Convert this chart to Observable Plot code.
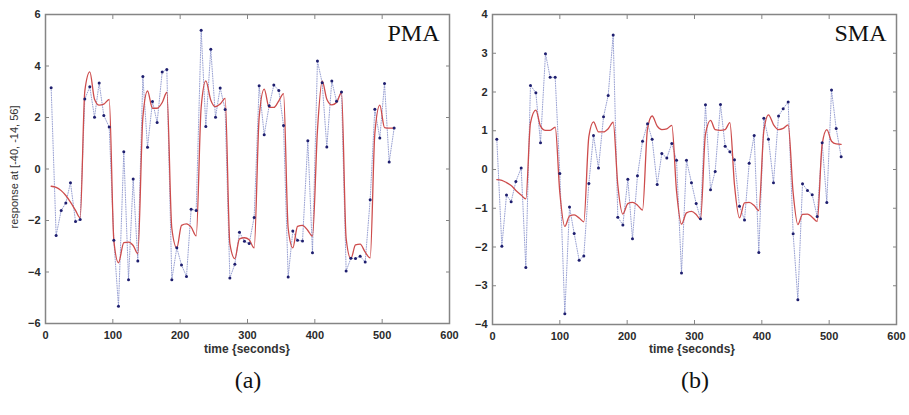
<!DOCTYPE html>
<html><head><meta charset="utf-8">
<script src="https://cdn.jsdelivr.net/npm/d3@7"></script>
<script src="https://cdn.jsdelivr.net/npm/@observablehq/plot@0.6"></script>
<style>
body{margin:0;background:#fff;}
#wrap{position:relative;width:909px;height:415px;overflow:hidden;background:#fff;}
.panel{position:absolute;top:0;}
.cap{position:absolute;font-family:"Liberation Serif","Times New Roman",serif;font-size:24px;line-height:1;color:#111;width:100px;text-align:center;white-space:nowrap;}
.xl{position:absolute;font-family:"Liberation Sans",Arial,sans-serif;font-weight:bold;font-size:12px;line-height:1;color:#333;width:140px;text-align:center;white-space:nowrap;}
.yl{position:absolute;font-family:"Liberation Sans",Arial,sans-serif;font-size:11px;line-height:1;color:#333;white-space:nowrap;transform:translate(-50%,-50%) rotate(-90deg);}
</style></head><body>
<div id="wrap">
  <div id="pb" class="panel" style="left:450px"></div>
  <div id="pa" class="panel" style="left:0px"></div>
  <div class="xl" style="left:177px;top:343px">time {seconds}</div>
  <div class="xl" style="left:622px;top:343px">time {seconds}</div>
  <div class="yl" style="left:14px;top:167px">response at [-40, -14, 56]</div>
  <div class="cap" style="left:198px;top:368px">(a)</div>
  <div class="cap" style="left:645px;top:368px">(b)</div>
</div>
<script>
// ---- data ----
const xTicks = [0, 100, 200, 300, 400, 500, 600];
const yTicksA = [-6, -4, -2, 0, 2, 4, 6];
const yTicksB = [-4, -3, -2, -1, 0, 1, 2, 3, 4];

// Panel (a) PMA
const timeA = [8.4, 15.8, 23.3, 30.2, 37.1, 44.6, 51.5, 58.4, 65.8, 72.8, 79.7, 86.6, 94.6, 101.5, 108.4, 116.3, 123.3, 130.2, 137.1, 144.6, 151.5, 158.9, 165.8, 173.3, 180.2, 187.6, 195.0, 202.0, 209.4, 216.3, 223.8, 231.2, 238.1, 245.5, 252.5, 259.4, 266.8, 273.8, 281.2, 288.1, 295.5, 302.5, 309.9, 317.3, 324.8, 332.2, 339.1, 346.5, 353.5, 360.4, 367.3, 374.3, 381.7, 389.6, 396.5, 403.9, 410.9, 417.8, 425.2, 432.2, 439.6, 446.5, 453.5, 460.4, 467.3, 474.8, 482.2, 489.1, 496.5, 503.5, 510.4, 517.8];
const respA = [3.16, -2.58, -1.61, -1.32, -0.53, -2.04, -1.96, 2.72, 3.19, 2.01, 3.34, 2.08, 1.63, -2.77, -5.33, 0.67, -4.30, -0.39, -3.57, 3.59, 0.84, 2.62, 1.81, 3.77, 3.86, -4.30, -3.06, -3.73, -4.17, -1.56, -1.61, 5.39, 1.65, 4.65, 2.01, 3.15, 2.31, -4.23, -3.70, -2.46, -2.81, -2.89, -1.88, 3.23, 1.33, 2.46, 3.26, 3.05, 1.69, -4.19, -2.41, -2.77, -2.80, 1.10, -3.25, 4.19, 3.35, 0.85, 3.42, 2.63, 2.99, -3.96, -3.47, -3.48, -3.39, -3.61, -1.19, 2.32, 1.20, 3.32, 0.27, 1.59];
const fitA = [-0.67, -0.71, -0.84, -1.03, -1.29, -1.61, -1.90, 3.03, 3.77, 2.71, 2.48, 2.52, 2.70, -2.77, -3.64, -2.86, -2.84, -2.97, -3.29, 2.00, 3.03, 2.36, 2.36, 2.58, 2.97, -2.30, -3.06, -2.19, -2.13, -2.26, -2.60, 2.40, 3.42, 2.67, 2.42, 2.52, 2.74, -2.90, -3.48, -2.71, -2.67, -2.75, -3.06, 2.00, 3.10, 2.39, 2.39, 2.65, 2.93, -2.30, -3.06, -2.23, -2.19, -2.39, -2.61, 1.50, 3.42, 2.71, 2.49, 2.58, 2.97, -2.70, -3.48, -2.95, -2.92, -3.23, -3.45, 1.37, 2.48, 1.61, 1.59, 1.59];

// Panel (b) SMA
const timeB = [6.4, 13.9, 20.8, 27.7, 34.7, 42.6, 49.5, 56.4, 64.4, 71.3, 78.7, 85.6, 93.1, 100.0, 107.4, 114.4, 121.3, 128.7, 135.6, 143.1, 150.0, 157.4, 164.9, 171.8, 179.2, 186.1, 193.6, 201.0, 207.9, 215.3, 222.8, 230.2, 237.1, 244.6, 251.5, 258.9, 266.3, 273.3, 280.7, 288.1, 295.5, 302.5, 308.9, 316.3, 323.8, 330.7, 338.6, 345.5, 352.5, 359.4, 366.8, 374.3, 381.2, 388.6, 395.5, 403.0, 409.9, 417.3, 424.8, 431.7, 439.1, 446.5, 453.5, 460.4, 467.8, 474.8, 482.2, 489.6, 496.5, 503.5, 510.4, 517.8];
const respB = [0.78, -1.98, -0.66, -0.83, -0.31, 0.04, -2.53, 2.17, 1.98, 0.69, 2.99, 2.38, 2.38, -0.10, -3.72, -0.97, -1.65, -2.34, -2.23, -0.36, 0.88, 0.04, 1.36, 1.91, 3.47, -1.23, -1.43, -0.25, -1.79, -0.16, 0.73, 1.18, 0.78, -0.39, 0.41, 0.30, 0.67, 0.24, -2.67, 0.24, -0.34, -0.88, -1.27, 1.67, -0.52, -0.05, 1.68, 0.60, 0.46, 0.25, -0.95, -1.30, 0.16, 0.88, -2.14, 1.32, 0.78, -0.34, 1.38, 1.57, 1.74, -1.66, -3.36, -0.37, -0.54, -0.65, -1.21, 0.69, -0.85, 2.05, 1.06, 0.33];
const fitB = [-0.26, -0.28, -0.34, -0.41, -0.54, -0.66, -0.76, 1.20, 1.53, 1.12, 1.01, 1.01, 1.09, -0.60, -1.47, -1.20, -1.17, -1.25, -1.35, 0.85, 1.23, 0.97, 0.97, 1.05, 1.22, -0.40, -1.15, -0.88, -0.85, -0.92, -1.05, 1.05, 1.38, 1.12, 1.03, 1.05, 1.14, -0.55, -1.41, -1.12, -1.08, -1.16, -1.29, 0.91, 1.27, 1.03, 1.01, 1.03, 1.21, -0.40, -1.25, -0.86, -0.85, -0.93, -1.06, 1.00, 1.41, 1.16, 1.03, 1.06, 1.15, -0.60, -1.42, -1.16, -1.15, -1.23, -1.34, 0.65, 1.03, 0.73, 0.66, 0.65];

function panel(t, v, fit, yDomain, yTicks, width, mL, mR, mB, name) {
  const rows = t.map((d, i) => ({t: d, v: v[i], fit: fit[i]}));
  const grey = "#858585";
  const none = () => "";
  return Plot.plot({
    width, height: 360,
    marginLeft: mL, marginRight: mR, marginTop: 14, marginBottom: mB,
    x: {domain: [0, 600]},
    y: {domain: yDomain},
    style: {fontFamily: "'Liberation Sans', Arial, sans-serif", fontSize: "11px", fontWeight: "bold", color: "#2a2a2a", background: "transparent", overflow: "visible"},
    marks: [
      Plot.line(rows, {x: "t", y: "v", stroke: "#7d88c6", strokeWidth: 0.8, strokeDasharray: "0.9,1.5"}),
      Plot.line(rows, {x: "t", y: "fit", stroke: "#cd4c4c", strokeWidth: 1.3, curve: "monotone-x"}),
      Plot.dot(rows, {x: "t", y: "v", r: 1.5, fill: "#1e1e6e", stroke: null}),
      Plot.frame({stroke: grey, strokeWidth: 1.5}),
      Plot.axisX(xTicks, {anchor: "bottom", tickSize: 0, tickPadding: 8, label: null}),
      Plot.axisX(xTicks, {anchor: "bottom", tickSize: -4, tickFormat: none, label: null, stroke: grey}),
      Plot.axisX(xTicks, {anchor: "top", tickSize: -4, tickFormat: none, label: null, stroke: grey}),
      Plot.axisY(yTicks, {anchor: "left", tickSize: 0, tickPadding: 5, label: null}),
      Plot.axisY(yTicks, {anchor: "left", tickSize: -4, tickFormat: none, label: null, stroke: grey}),
      Plot.axisY(yTicks, {anchor: "right", tickSize: -4, tickFormat: none, label: null, stroke: grey}),
      Plot.text([name], {frameAnchor: "top-right", textAnchor: "end", lineAnchor: "top", dx: -10, dy: 9, fontSize: 24, fontFamily: "'Liberation Serif', 'Times New Roman', serif", fontWeight: "normal", fill: "#111"})
    ]
  });
}

document.getElementById("pa").appendChild(panel(timeA, respA, fitA, [-6, 6], yTicksA, 460, 45, 11, 37, "PMA"));
document.getElementById("pb").appendChild(panel(timeB, respB, fitB, [-4, 4], yTicksB, 459, 42, 13, 36, "SMA"));
</script>
</body></html>
